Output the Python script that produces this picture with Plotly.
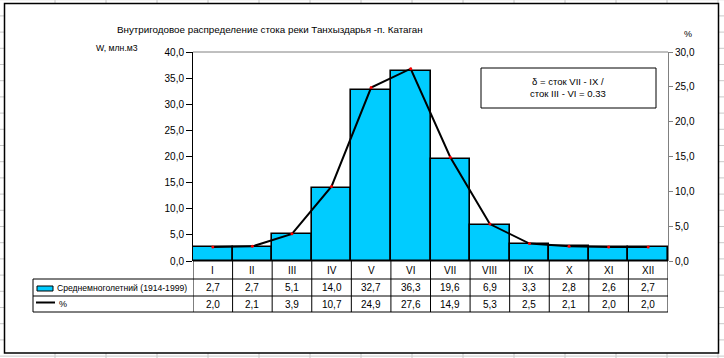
import plotly.graph_objects as go

months = ["I", "II", "III", "IV", "V", "VI", "VII", "VIII", "IX", "X", "XI", "XII"]
runoff = [2.7, 2.7, 5.1, 14.0, 32.7, 36.3, 19.6, 6.9, 3.3, 2.8, 2.6, 2.7]
percent = [2.0, 2.1, 3.9, 10.7, 24.9, 27.6, 14.9, 5.3, 2.5, 2.1, 2.0, 2.0]
runoff_fmt = ["2,7", "2,7", "5,1", "14,0", "32,7", "36,3", "19,6", "6,9", "3,3", "2,8", "2,6", "2,7"]
percent_fmt = ["2,0", "2,1", "3,9", "10,7", "24,9", "27,6", "14,9", "5,3", "2,5", "2,1", "2,0", "2,0"]
series_name = "Среднемноголетний (1914-1999)"
title = "Внутригодовое распределение стока реки Танхыздарья -п. Катаган"

W, H = 724, 358
FONT = "Liberation Sans, Arial, sans-serif"


def fx(x):
    return x / W


def fy(y):
    return 1 - y / H


PL, PR, PT, PB = 193, 668, 52, 261
ROWS = [261, 279, 296, 312]
TL = 33

fig = go.Figure()
fig.add_trace(go.Bar(
    x=months, y=runoff, width=1, name=series_name,
    marker=dict(color="#00CCFF", line=dict(color="black", width=1.6)),
    showlegend=False, hoverinfo="skip"))
fig.add_trace(go.Scatter(
    x=months, y=percent, yaxis="y2", mode="lines+markers", name="%",
    line=dict(color="black", width=2),
    marker=dict(color="red", size=3, symbol="circle"),
    showlegend=False, hoverinfo="skip"))

shapes = []
# spreadsheet grid in background
for k in range(0, 15):
    xv = 55 + 51 * k
    shapes.append(dict(type="line", xref="paper", yref="paper", x0=fx(xv), x1=fx(xv), y0=0, y1=1,
                       line=dict(color="#c8c8c8", width=1), layer="below"))
for k in range(0, 23):
    yv = -0.3 + 16.2 * k
    shapes.append(dict(type="line", xref="paper", yref="paper", x0=0, x1=1, y0=fy(yv), y1=fy(yv),
                       line=dict(color="#c8c8c8", width=1), layer="below"))
# chart area
shapes.append(dict(type="rect", xref="paper", yref="paper", x0=fx(4.5), x1=fx(718.5), y0=fy(353), y1=fy(3.5),
                   fillcolor="white", line=dict(color="black", width=1.5), layer="below"))
# top border of plot area
shapes.append(dict(type="line", xref="paper", yref="paper", x0=fx(PL), x1=fx(PR), y0=fy(PT), y1=fy(PT),
                   line=dict(color="#808080", width=1)))
# data table lines
for i, r in enumerate(ROWS):
    x0 = PL if i == 0 else TL
    shapes.append(dict(type="line", xref="paper", yref="paper", x0=fx(x0), x1=fx(PR), y0=fy(r), y1=fy(r),
                       line=dict(color="black", width=1)))
for k in range(13):
    shapes.append(dict(type="line", xref="x", yref="paper", x0=k - 0.5, x1=k - 0.5,
                       y0=fy(ROWS[-1]), y1=fy(ROWS[0]), line=dict(color="black", width=1)))
shapes.append(dict(type="line", xref="paper", yref="paper", x0=fx(TL), x1=fx(TL), y0=fy(ROWS[-1]), y1=fy(ROWS[1]),
                   line=dict(color="black", width=1)))
# legend keys
shapes.append(dict(type="rect", xref="paper", yref="paper", x0=fx(37), x1=fx(53), y0=fy(291), y1=fy(286),
                   fillcolor="#00CCFF", line=dict(color="black", width=1)))
shapes.append(dict(type="line", xref="paper", yref="paper", x0=fx(36), x1=fx(55), y0=fy(302.5), y1=fy(302.5),
                   line=dict(color="black", width=2)))
# formula box
shapes.append(dict(type="rect", xref="paper", yref="paper", x0=fx(481), x1=fx(656), y0=fy(108), y1=fy(68),
                   fillcolor="white", line=dict(color="black", width=1)))

ann = []
ann.append(dict(text=title, xref="paper", yref="paper", x=fx(270), y=fy(30), showarrow=False,
                font=dict(size=9.8, family=FONT, color="black"), xanchor="center", yanchor="middle"))
ann.append(dict(text="W, млн.м3", xref="paper", yref="paper", x=fx(117), y=fy(48), showarrow=False,
                font=dict(size=8.7, family=FONT, color="black"), xanchor="center", yanchor="middle"))
ann.append(dict(text="%", xref="paper", yref="paper", x=fx(688), y=fy(34), showarrow=False,
                font=dict(size=9, family=FONT, color="black"), xanchor="center", yanchor="middle"))
ann.append(dict(text="δ = сток VII - IX /<br>сток III - VI = 0.33", xref="paper", yref="paper",
                x=fx(568), y=fy(88), showarrow=False, align="center",
                font=dict(size=9.5, family=FONT, color="black"), xanchor="center", yanchor="middle"))
rowc = [(ROWS[i] + ROWS[i + 1]) / 2 for i in range(3)]
for m, v, p in zip(months, runoff_fmt, percent_fmt):
    for txt, yc in ((m, rowc[0]), (v, rowc[1]), (p, rowc[2])):
        ann.append(dict(text=txt, xref="x", yref="paper", x=m, y=fy(yc), showarrow=False,
                        font=dict(size=10, family=FONT, color="black"), xanchor="center", yanchor="middle"))
ann.append(dict(text=series_name, xref="paper", yref="paper", x=fx(55), y=fy(rowc[1]), showarrow=False,
                font=dict(size=8.6, family=FONT, color="black"), xanchor="left", yanchor="middle"))
ann.append(dict(text="%", xref="paper", yref="paper", x=fx(57), y=fy(rowc[2]), showarrow=False,
                font=dict(size=9, family=FONT, color="black"), xanchor="left", yanchor="middle"))

fig.update_layout(
    width=W, height=H, margin=dict(l=0, r=0, t=0, b=0, autoexpand=False),
    paper_bgcolor="white", plot_bgcolor="rgba(0,0,0,0)",
    separators=", ",
    bargap=0,
    font=dict(family=FONT, size=10, color="black"),
    xaxis=dict(domain=[fx(PL), fx(PR)], range=[-0.5, 11.5], visible=False, type="category",
               automargin=False),
    yaxis=dict(domain=[fy(PB), fy(PT)], range=[0, 40], dtick=5, tick0=0, tickformat=".1f",
               showline=True, linecolor="black", linewidth=1, ticks="outside", ticklen=6,
               tickcolor="black", showgrid=False, zeroline=False, automargin=False,
               tickfont=dict(size=10, family=FONT, color="black")),
    yaxis2=dict(overlaying="y", side="right", anchor="x", range=[0, 30], dtick=5, tick0=0,
                tickformat=".1f", showline=True, linecolor="#808080", linewidth=1,
                ticks="outside", ticklen=4, tickcolor="#808080", showgrid=False, zeroline=False,
                automargin=False, tickfont=dict(size=10, family=FONT, color="black")),
    shapes=shapes, annotations=ann,
)

fig.write_html("out.html", config={"displayModeBar": False},
               post_script="document.body.style.margin='0';document.body.style.overflow='hidden';")
